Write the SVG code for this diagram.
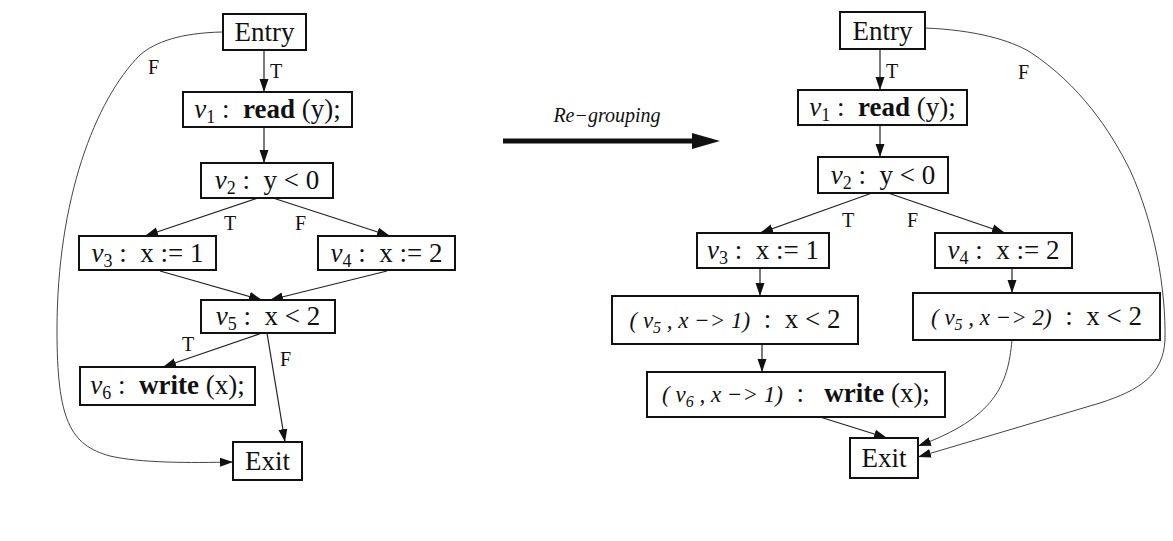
<svg xmlns="http://www.w3.org/2000/svg" width="1173" height="541" viewBox="0 0 1173 541">
  <defs>
    <marker id="ah" markerWidth="14" markerHeight="10" refX="13" refY="5" orient="auto" markerUnits="userSpaceOnUse">
      <path d="M0,0.5 L13,5 L0,9.5 Z" fill="#111"/>
    </marker>
    <style>
      .box { fill: #fff; stroke: #111; stroke-width: 2; }
      .t { font-family: "Liberation Serif", "Times New Roman", serif; font-size: 27px; fill: #111; white-space: pre; }
      .lbl { font-family: "Liberation Serif", "Times New Roman", serif; font-size: 20px; fill: #111; }
      .it { font-style: italic; }
      .b { font-weight: bold; }
      .sm { font-style: italic; font-size: 23px; }
      .edge { fill: none; stroke: #222; stroke-width: 1.2; marker-end: url(#ah); }
      .thin { fill: none; stroke: #444; stroke-width: 1; marker-end: url(#ah); }
    </style>
  </defs>
  <rect width="1173" height="541" fill="#fff"/>

  <!-- left graph: connectors -->
  <g id="left-edges">
    <line class="edge" x1="264" y1="50" x2="264" y2="92"/>
    <line class="edge" x1="264" y1="127" x2="264" y2="163"/>
    <line class="edge" x1="258" y1="198" x2="145" y2="236"/>
    <line class="edge" x1="273" y1="198" x2="390" y2="236"/>
    <line class="edge" x1="160" y1="271" x2="262" y2="300"/>
    <line class="edge" x1="387" y1="271" x2="270" y2="300"/>
    <line class="edge" x1="262" y1="333" x2="163" y2="367"/>
    <line class="edge" x1="267" y1="333" x2="285" y2="442"/>
    <path class="thin" d="M222,32 C180,33 155,42 140,55 C95,100 57,200 57,330 C57,420 70,445 110,456 C140,463 190,463 233,462"/>
    <text class="lbl" x="270" y="78">T</text>
    <text class="lbl" x="148" y="74">F</text>
    <text class="lbl" x="224" y="230">T</text>
    <text class="lbl" x="295" y="230">F</text>
    <text class="lbl" x="182" y="351">T</text>
    <text class="lbl" x="280" y="366">F</text>
  </g>

  <!-- left graph: nodes -->
  <g id="L-entry">
    <rect class="box" x="223" y="14" width="83" height="36"/>
    <text class="t" x="264.5" y="41" text-anchor="middle">Entry</text>
  </g>
  <g id="L-v1">
    <rect class="box" x="183" y="92" width="169" height="35"/>
    <text class="t" x="267.5" y="118" text-anchor="middle"><tspan class="it">v</tspan><tspan font-size="18" dy="5">1</tspan><tspan dy="-5"> :  </tspan><tspan class="b">read</tspan> (y);</text>
  </g>
  <g id="L-v2">
    <rect class="box" x="201" y="163" width="132" height="35"/>
    <text class="t" x="267" y="189" text-anchor="middle"><tspan class="it">v</tspan><tspan font-size="18" dy="5">2</tspan><tspan dy="-5"> :  y &lt; 0</tspan></text>
  </g>
  <g id="L-v3">
    <rect class="box" x="79" y="236" width="137" height="34"/>
    <text class="t" x="147.5" y="262" text-anchor="middle"><tspan class="it">v</tspan><tspan font-size="18" dy="5">3</tspan><tspan dy="-5"> :  x := 1</tspan></text>
  </g>
  <g id="L-v4">
    <rect class="box" x="318" y="236" width="137" height="34"/>
    <text class="t" x="386.5" y="262" text-anchor="middle"><tspan class="it">v</tspan><tspan font-size="18" dy="5">4</tspan><tspan dy="-5"> :  x := 2</tspan></text>
  </g>
  <g id="L-v5">
    <rect class="box" x="201" y="300" width="134" height="33"/>
    <text class="t" x="268" y="325" text-anchor="middle"><tspan class="it">v</tspan><tspan font-size="18" dy="5">5</tspan><tspan dy="-5"> :  x &lt; 2</tspan></text>
  </g>
  <g id="L-v6">
    <rect class="box" x="80" y="367" width="175" height="38"/>
    <text class="t" x="167.5" y="394" text-anchor="middle"><tspan class="it">v</tspan><tspan font-size="18" dy="5">6</tspan><tspan dy="-5"> :  </tspan><tspan class="b">write</tspan> (x);</text>
  </g>
  <g id="L-exit">
    <rect class="box" x="233" y="442" width="69" height="38"/>
    <text class="t" x="267.5" y="470" text-anchor="middle">Exit</text>
  </g>

  <!-- transformation arrow -->
  <g id="regroup">
    <text class="lbl it" x="607" y="122" text-anchor="middle" font-size="22">Re−grouping</text>
    <line x1="503" y1="141" x2="696" y2="141" stroke="#111" stroke-width="5"/>
    <path d="M692,133 L720,141 L692,149 Z" fill="#111"/>
  </g>

  <!-- right graph: connectors -->
  <g id="right-edges">
    <line class="edge" x1="880" y1="50" x2="880" y2="90"/>
    <line class="edge" x1="880" y1="125" x2="880" y2="157"/>
    <line class="edge" x1="872" y1="193" x2="760" y2="233"/>
    <line class="edge" x1="888" y1="193" x2="1005" y2="233"/>
    <line class="edge" x1="760" y1="268" x2="760" y2="296"/>
    <line class="edge" x1="1012" y1="268" x2="1012" y2="293"/>
    <line class="edge" x1="762" y1="344" x2="762" y2="372"/>
    <line class="edge" x1="820" y1="417" x2="887" y2="438"/>
    <path class="thin" d="M1012,340 C1008,385 995,418 918,446"/>
    <path class="thin" d="M925,28 C975,30 1010,40 1030,52 C1080,85 1110,130 1130,170 C1155,225 1166,290 1165,340 C1163,375 1140,390 1100,403 L918,457"/>
    <text class="lbl" x="886" y="78">T</text>
    <text class="lbl" x="1018" y="79">F</text>
    <text class="lbl" x="842" y="227">T</text>
    <text class="lbl" x="907" y="227">F</text>
  </g>

  <!-- right graph: nodes -->
  <g id="R-entry">
    <rect class="box" x="840" y="12" width="85" height="37"/>
    <text class="t" x="882.5" y="40" text-anchor="middle">Entry</text>
  </g>
  <g id="R-v1">
    <rect class="box" x="798" y="90" width="169" height="35"/>
    <text class="t" x="882.5" y="116" text-anchor="middle"><tspan class="it">v</tspan><tspan font-size="18" dy="5">1</tspan><tspan dy="-5"> :  </tspan><tspan class="b">read</tspan> (y);</text>
  </g>
  <g id="R-v2">
    <rect class="box" x="818" y="157" width="130" height="36"/>
    <text class="t" x="883" y="184" text-anchor="middle"><tspan class="it">v</tspan><tspan font-size="18" dy="5">2</tspan><tspan dy="-5"> :  y &lt; 0</tspan></text>
  </g>
  <g id="R-v3">
    <rect class="box" x="697" y="233" width="132" height="35"/>
    <text class="t" x="763" y="259" text-anchor="middle"><tspan class="it">v</tspan><tspan font-size="18" dy="5">3</tspan><tspan dy="-5"> :  x := 1</tspan></text>
  </g>
  <g id="R-v4">
    <rect class="box" x="935" y="233" width="137" height="35"/>
    <text class="t" x="1003.5" y="259" text-anchor="middle"><tspan class="it">v</tspan><tspan font-size="18" dy="5">4</tspan><tspan dy="-5"> :  x := 2</tspan></text>
  </g>
  <g id="R-v5-1">
    <rect class="box" x="612" y="296" width="246" height="48"/>
    <text class="t" x="735" y="328" text-anchor="middle"><tspan class="sm">( v</tspan><tspan class="it" font-size="16" dy="5">5</tspan><tspan class="sm" dy="-5"> , x −&gt; 1)</tspan>  :  x &lt; 2</text>
  </g>
  <g id="R-v5-2">
    <rect class="box" x="913" y="293" width="247" height="47"/>
    <text class="t" x="1036.5" y="325" text-anchor="middle"><tspan class="sm">( v</tspan><tspan class="it" font-size="16" dy="5">5</tspan><tspan class="sm" dy="-5"> , x −&gt; 2)</tspan>  :  x &lt; 2</text>
  </g>
  <g id="R-v6-1">
    <rect class="box" x="647" y="372" width="298" height="45"/>
    <text class="t" x="796" y="402" text-anchor="middle"><tspan class="sm">( v</tspan><tspan class="it" font-size="16" dy="5">6</tspan><tspan class="sm" dy="-5"> , x −&gt; 1)</tspan>  :   <tspan class="b">write</tspan> (x);</text>
  </g>
  <g id="R-exit">
    <rect class="box" x="850" y="438" width="68" height="40"/>
    <text class="t" x="884" y="467" text-anchor="middle">Exit</text>
  </g>
</svg>
